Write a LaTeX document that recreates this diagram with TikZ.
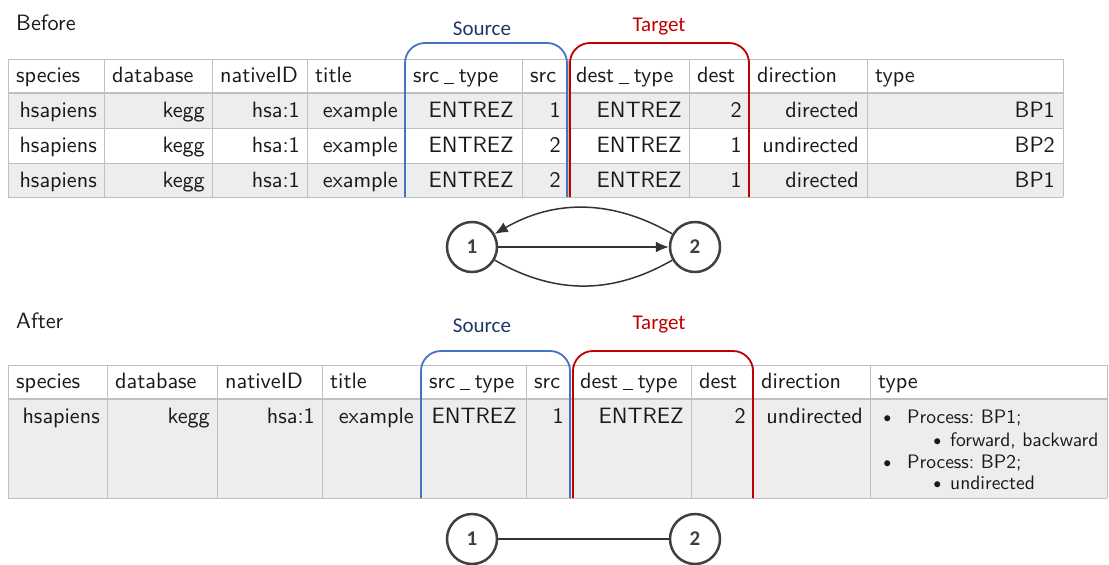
\documentclass[tikz,border=0pt]{standalone}
\usepackage{fontspec}
\usetikzlibrary{arrows.meta}
\newfontfamily\tabfont{lmsans10-regular.otf}
\newfontfamily\calib{Carlito}
\definecolor{gridgray}{HTML}{BFBFBF}
\definecolor{rowgray}{HTML}{EDEDED}
\definecolor{srcblue}{HTML}{4472C4}
\definecolor{srcnavy}{HTML}{1F3864}
\definecolor{tgtred}{HTML}{C00000}
\definecolor{nodegray}{HTML}{404040}
\newcommand{\us}{\kern.22em\rule[-2pt]{.45em}{1.1pt}\kern.22em}
\frenchspacing

\begin{document}
\begin{tikzpicture}[x=1pt,y=-1pt,
    txt/.style={font=\tabfont\fontsize{22.2}{24}\selectfont, text=black!90, inner sep=0pt},
    hd/.style={txt, anchor=base west},
    cell/.style={txt, anchor=base east},
    lst/.style={txt, anchor=base west, font=\tabfont\fontsize{19.5}{22}\selectfont},
    dot/.style={txt, anchor=base west, font=\calib\fontsize{17}{22}\selectfont},
    grid/.style={gridgray, line width=1pt},
    brace/.style={line width=1.8pt, rounded corners=20pt},
    tag/.style={font=\calib\fontsize{21}{24}\selectfont, inner sep=0pt, anchor=base},
    vert/.style={circle, draw=nodegray, line width=2.5pt, minimum size=50pt, inner sep=0pt,
        font=\calib\bfseries\fontsize{21}{24}\selectfont, text=nodegray},
    edge/.style={draw=black!80, line width=1.5pt},
    arr/.style={edge, -{Latex[length=13pt,width=11pt]}}
]
\useasboundingbox (0,0) rectangle (1109,565);

% Before
\node[hd] (before) at (16,30) {Before};

% Grid
\fill[rowgray] (8,93) rectangle (1063,128);
\fill[rowgray] (8,163) rectangle (1063,197);
\foreach \y in {59,128,163,197} \draw[grid] (8,\y) -- (1063,\y);
\draw[grid, line width=2pt] (8,93) -- (1063,93);
\foreach \x in {8,104,212,307,405,522,568,689,749,867,1063} \draw[grid] (\x,59) -- (\x,197);

% Header
\foreach \x/\t [count=\i] in {8/species,104/database,212/nativeID,307/title,405/src\us type,
    522/src,568/dest\us type,689/dest,749/direction,867/type}
    \node[hd] (bh\i) at (\x+8,82) {\t};

% Rows
\foreach \r/\y/\s/\d/\dir/\ty in {1/117/1/2/directed/BP1, 2/152/2/1/undirected/BP2, 3/187/2/1/directed/BP1}{
    \node[cell] (b\r-sp) at (97,\y) {hsapiens};
    \node[cell] (b\r-db) at (205,\y) {kegg};
    \node[cell] (b\r-id) at (300,\y) {hsa:1};
    \node[cell] (b\r-ti) at (398,\y) {example};
    \node[cell] (b\r-st) at (514,\y) {ENTREZ};
    \node[cell] (b\r-s) at (561,\y) {\s};
    \node[cell] (b\r-dt) at (682,\y) {ENTREZ};
    \node[cell] (b\r-d) at (742,\y) {\d};
    \node[cell] (b\r-dir) at (859,\y) {\dir};
    \node[cell] (b\r-ty) at (1055,\y) {\ty};
}

% Source / target
\draw[brace, srcblue] (405,197) -- (405,43) -- (567,43) -- (567,197);
\draw[brace, tgtred] (570,197) -- (570,43) -- (749,43) -- (749,197);
\node[tag, text=srcnavy] (bsrc) at (482,35) {Source};
\node[tag, text=tgtred] (btgt) at (659,31) {Target};

% Graph before
\node[vert] (b1) at (472,247) {1};
\node[vert] (b2) at (695,247) {2};
\draw[arr] (b1) -- (b2);
\draw[arr] (b2) to[bend right=30] (b1);
\draw[edge] (b1) to[bend right=30] (b2);

% After
\node[hd] (after) at (16,328) {After};

% Grid
\fill[rowgray] (8,399) rectangle (1107,498);
\foreach \y in {365,498} \draw[grid] (8,\y) -- (1107,\y);
\draw[grid, line width=2pt] (8,399) -- (1107,399);
\foreach \x in {8,107,217,322,421,526,572,691,753,870,1107} \draw[grid] (\x,365) -- (\x,498);

% Header
\foreach \x/\t [count=\i] in {8/species,107/database,217/nativeID,322/title,421/src\us type,
    526/src,572/dest\us type,691/dest,753/direction,870/type}
    \node[hd] (ah\i) at (\x+8,388) {\t};

% Row
\node[cell] (a-sp) at (100,423) {hsapiens};
\node[cell] (a-db) at (210,423) {kegg};
\node[cell] (a-id) at (315,423) {hsa:1};
\node[cell] (a-ti) at (414,423) {example};
\node[cell] (a-st) at (517,423) {ENTREZ};
\node[cell] (a-s) at (564,423) {1};
\node[cell] (a-dt) at (684,423) {ENTREZ};
\node[cell] (a-d) at (746,423) {2};
\node[cell] (a-dir) at (863,423) {undirected};

% Type list
\node[dot] (a-b1) at (883,423) {•};
\node[lst] (a-t1) at (907,423) {Process: BP1;};
\node[dot] (a-b2) at (933,446) {•};
\node[lst] (a-t2) at (950,446) {forward, backward};
\node[dot] (a-b3) at (883,468) {•};
\node[lst] (a-t3) at (907,468) {Process: BP2;};
\node[dot] (a-b4) at (933,489) {•};
\node[lst] (a-t4) at (950,489) {undirected};

% Source / target
\draw[brace, srcblue] (421,498) -- (421,351) -- (570,351) -- (570,498);
\draw[brace, tgtred] (573,498) -- (573,351) -- (753,351) -- (753,498);
\node[tag, text=srcnavy] (asrc) at (482,332) {Source};
\node[tag, text=tgtred] (atgt) at (659,329) {Target};

% Graph after
\node[vert] (a1) at (472,539) {1};
\node[vert] (a2) at (695,539) {2};
\draw[edge] (a1) -- (a2);
\end{tikzpicture}
\end{document}
